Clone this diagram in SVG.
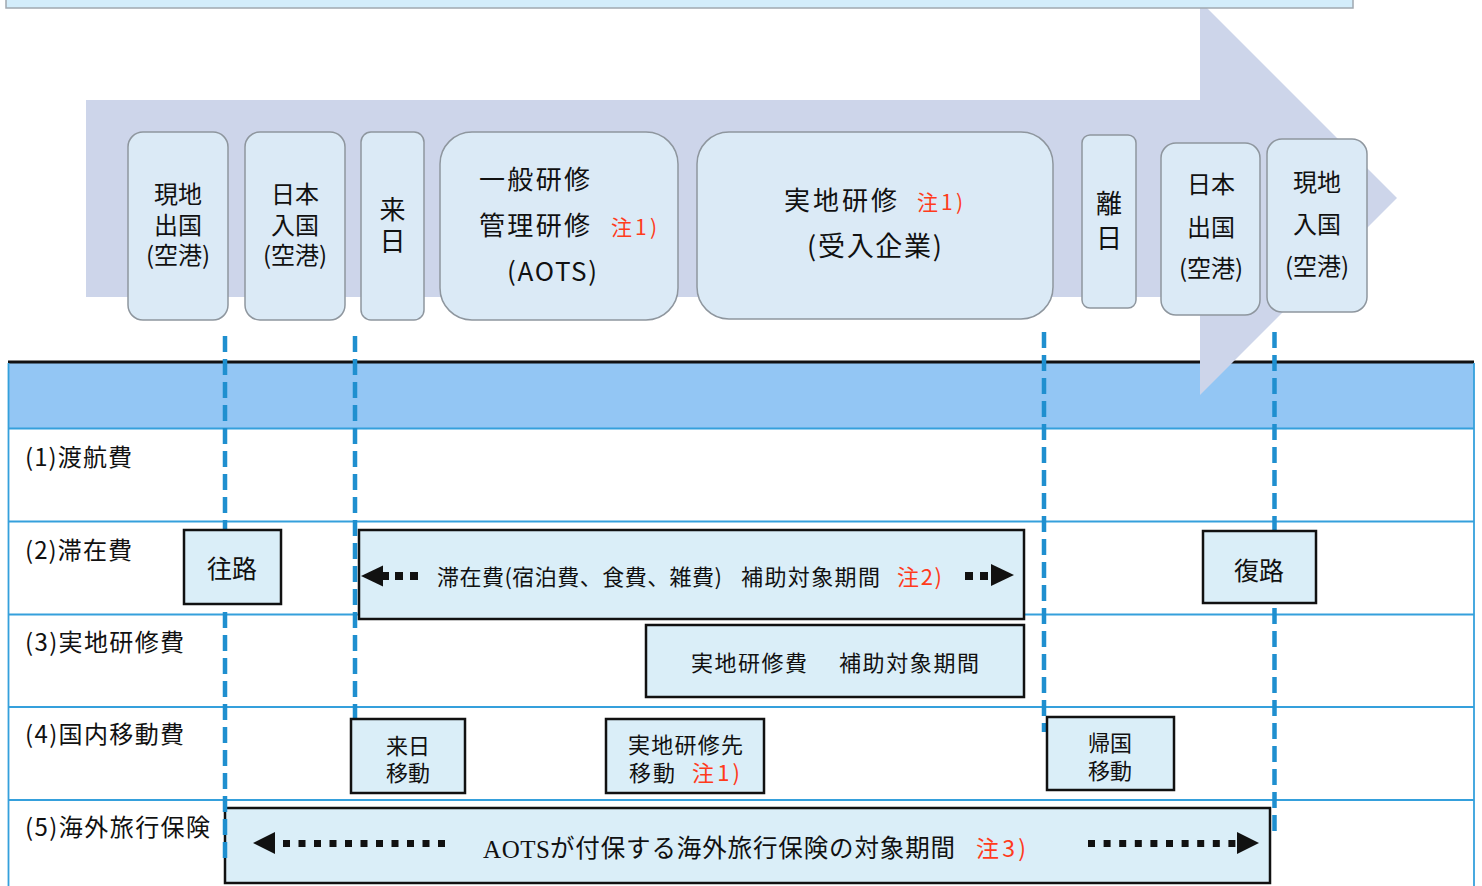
<svg xmlns="http://www.w3.org/2000/svg" width="1482" height="886" viewBox="0 0 1482 886">
<defs>
<style>
text{font-family:"Noto Sans CJK JP","Noto Sans",sans-serif;fill:#111;}
.rb{fill:#dbeaf6;stroke:#8e969e;stroke-width:1.5;}
.bx{fill:#daeef8;stroke:#111;stroke-width:2.5;}
.red{fill:#ff3b1c;}
.dash{stroke:#1f8fcf;stroke-width:4.5;stroke-dasharray:16 7;fill:none;}
.row{stroke:#35a0dc;stroke-width:1.8;fill:none;}
.t24{font-size:24px;text-anchor:middle;}
.t26{font-size:26px;text-anchor:middle;}
.t22{font-size:22px;}
.lbl{font-size:24px;}
.sq{fill:#111;}
</style>
</defs>
<rect width="1482" height="886" fill="#ffffff"/>

<!-- table -->
<g id="table">
<rect x="8" y="363" width="1466" height="65" fill="#93c6f4"/>
<line x1="8" y1="362" x2="1474" y2="362" stroke="#111" stroke-width="3"/>
<line class="row" x1="8" y1="428.5" x2="1474" y2="428.5"/>
<line class="row" x1="8" y1="521.5" x2="1474" y2="521.5"/>
<line class="row" x1="8" y1="614.5" x2="1474" y2="614.5"/>
<line class="row" x1="8" y1="707" x2="1474" y2="707"/>
<line class="row" x1="8" y1="800" x2="1474" y2="800"/>
<line class="row" x1="8.5" y1="363" x2="8.5" y2="886"/>
<line class="row" x1="1474" y1="363" x2="1474" y2="886"/>
<text class="lbl" x="25" y="466" textLength="107">(1)渡航費</text>
<text class="lbl" x="25" y="559" textLength="107">(2)滞在費</text>
<text class="lbl" x="25" y="651" textLength="159">(3)実地研修費</text>
<text class="lbl" x="25" y="743" textLength="159">(4)国内移動費</text>
<text class="lbl" x="25" y="836" textLength="185">(5)海外旅行保険</text>
</g>

<!-- big arrow -->
<g id="timeline-arrow">
<polygon points="86,100 1200,100 1200,1 1397,198 1200,395 1200,297 86,297" fill="#cdd5ea"/>
</g>

<!-- top box -->
<g id="top-box">
<rect x="6" y="-10" width="1347" height="18" fill="#d3edfb" stroke="#a0a8b0" stroke-width="1.5"/>
</g>

<!-- timeline nodes -->
<g id="n-genchi-shukkoku">
<rect class="rb" x="128" y="132" width="100" height="188" rx="15"/>
<text class="t24" x="178" y="203">現地</text>
<text class="t24" x="178" y="234">出国</text>
<text class="t24" x="178" y="264">(空港)</text>
</g>
<g id="n-nihon-nyukoku">
<rect class="rb" x="245" y="132" width="100" height="188" rx="15"/>
<text class="t24" x="295" y="203">日本</text>
<text class="t24" x="295" y="234">入国</text>
<text class="t24" x="295" y="264">(空港)</text>
</g>
<g id="n-rainichi">
<rect class="rb" x="361" y="132" width="63" height="188" rx="10"/>
<text class="t26" x="392.5" y="219">来</text>
<text class="t26" x="392.5" y="251">日</text>
</g>
<g id="n-ippan-kenshu">
<rect class="rb" x="440" y="132" width="238" height="188" rx="32"/>
<text x="479" y="189" font-size="26" textLength="111">一般研修</text>
<text x="479" y="235" font-size="26" textLength="111">管理研修</text>
<text class="red" x="611" y="235" font-size="21" textLength="46">注1)</text>
<text x="507" y="281" font-size="26" textLength="90">(AOTS)</text>
</g>
<g id="n-jicchi-kenshu">
<rect class="rb" x="697" y="132" width="356" height="187" rx="32"/>
<text x="784" y="210" font-size="26" textLength="113">実地研修</text>
<text class="red" x="917" y="210" font-size="21" textLength="46">注1)</text>
<text x="807" y="256" font-size="27" textLength="135">(受入企業)</text>
</g>
<g id="n-rinichi">
<rect class="rb" x="1082" y="135" width="54" height="173" rx="8"/>
<text class="t26" x="1109" y="213">離</text>
<text class="t26" x="1109" y="248">日</text>
</g>
<g id="n-nihon-shukkoku">
<rect class="rb" x="1161" y="143" width="99" height="172" rx="15"/>
<text class="t24" x="1211" y="193">日本</text>
<text class="t24" x="1211" y="236">出国</text>
<text class="t24" x="1211" y="277">(空港)</text>
</g>
<g id="n-genchi-nyukoku">
<rect class="rb" x="1267" y="139" width="100" height="173" rx="15"/>
<text class="t24" x="1317" y="191">現地</text>
<text class="t24" x="1317" y="233">入国</text>
<text class="t24" x="1317" y="275">(空港)</text>
</g>

<!-- row 5 box (under connectors) -->
<g id="n-hoken">
<rect class="bx" x="225" y="808" width="1045" height="75"/>
<polygon class="sq" points="253,843 275,832 275,854"/>
<g class="sq">
<rect x="283" y="840" width="7" height="7"/><rect x="298.5" y="840" width="7" height="7"/><rect x="314" y="840" width="7" height="7"/><rect x="329.5" y="840" width="7" height="7"/><rect x="345" y="840" width="7" height="7"/><rect x="360.5" y="840" width="7" height="7"/><rect x="376" y="840" width="7" height="7"/><rect x="391.5" y="840" width="7" height="7"/><rect x="407" y="840" width="7" height="7"/><rect x="422.5" y="840" width="7" height="7"/><rect x="438" y="840" width="7" height="7"/>
<rect x="1088" y="840" width="7" height="7"/><rect x="1103.6" y="840" width="7" height="7"/><rect x="1119.2" y="840" width="7" height="7"/><rect x="1134.8" y="840" width="7" height="7"/><rect x="1150.4" y="840" width="7" height="7"/><rect x="1166" y="840" width="7" height="7"/><rect x="1181.6" y="840" width="7" height="7"/><rect x="1197.2" y="840" width="7" height="7"/><rect x="1212.8" y="840" width="7" height="7"/><rect x="1228.4" y="840" width="7" height="7"/>
</g>
<polygon class="sq" points="1259,843 1237,832 1237,854"/>
<text x="483" y="858" font-size="25" textLength="67" style="font-family:'Liberation Serif',serif">AOTS</text>
<text x="550" y="857" font-size="24.5" textLength="405">が付保する海外旅行保険の対象期間</text>
<text class="red" x="976" y="857" font-size="23" textLength="50">注3)</text>
</g>

<!-- connectors -->
<g id="connectors">
<line class="dash" x1="225" y1="336" x2="225" y2="858"/>
<line class="dash" x1="355" y1="336" x2="355" y2="718"/>
<line class="dash" x1="1044" y1="332" x2="1044" y2="732"/>
<line class="dash" x1="1274.5" y1="332" x2="1274.5" y2="838"/>
</g>

<!-- row 2 -->
<g id="n-ouro">
<rect class="bx" x="184" y="530" width="97" height="74"/>
<text x="232" y="577.5" font-size="25" text-anchor="middle">往路</text>
</g>
<g id="n-taizai">
<rect class="bx" x="359" y="530" width="665" height="89"/>
<polygon class="sq" points="361,576 383,565.5 383,586.5"/>
<rect class="sq" x="382" y="572" width="7" height="8"/>
<rect class="sq" x="395" y="572" width="8" height="8"/>
<rect class="sq" x="410" y="572" width="8" height="8"/>
<text class="t22" x="437" y="585" textLength="285">滞在費(宿泊費、食費、雑費)</text>
<text class="t22" x="741" y="585" textLength="139">補助対象期間</text>
<text class="t22 red" x="897" y="585" textLength="45">注2)</text>
<rect class="sq" x="965" y="572" width="8" height="8"/>
<rect class="sq" x="980" y="572" width="8" height="8"/>
<polygon class="sq" points="1014,575 991,564 991,586"/>
</g>
<g id="n-fukuro">
<rect class="bx" x="1203" y="531" width="113" height="72"/>
<text x="1259" y="579.5" font-size="25" text-anchor="middle">復路</text>
</g>

<!-- row 3 -->
<g id="n-jicchi-hi">
<rect class="bx" x="646" y="625" width="378" height="72"/>
<text class="t22" x="691" y="670.5" textLength="116">実地研修費</text>
<text class="t22" x="839" y="670.5" textLength="140">補助対象期間</text>
</g>

<!-- row 4 -->
<g id="n-rainichi-ido">
<rect class="bx" x="351" y="719" width="114" height="74"/>
<text class="t22" x="408" y="753.5" text-anchor="middle">来日</text>
<text class="t22" x="408" y="780.5" text-anchor="middle">移動</text>
</g>
<g id="n-kenshusaki-ido">
<rect class="bx" x="606" y="719" width="158" height="74"/>
<text class="t22" x="628" y="752.5" textLength="115">実地研修先</text>
<text class="t22" x="629" y="780.5" textLength="46">移動</text>
<text class="t22 red" x="692" y="780.5" textLength="48">注1)</text>
</g>
<g id="n-kikoku-ido">
<rect class="bx" x="1047" y="717" width="127" height="73"/>
<text class="t22" x="1110" y="750.5" text-anchor="middle">帰国</text>
<text class="t22" x="1110" y="778.5" text-anchor="middle">移動</text>
</g>
</svg>
